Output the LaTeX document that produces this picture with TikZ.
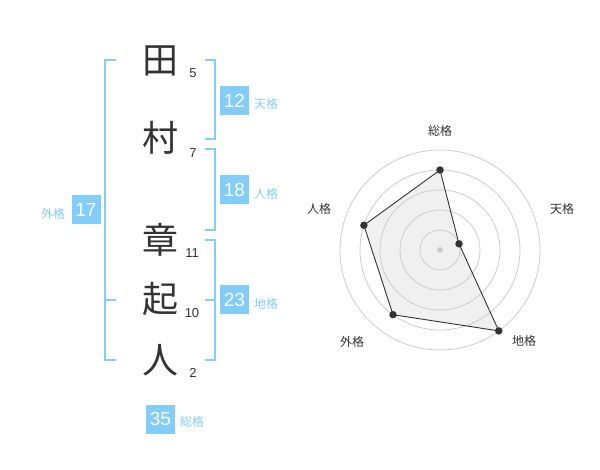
\documentclass[tikz,border=0pt]{standalone}
\usepackage{fontspec}
\setmainfont{Liberation Sans}
\newfontfamily\jp{Noto Sans CJK JP}
\definecolor{sky}{HTML}{82CDF9}
\definecolor{ink}{HTML}{333333}
\definecolor{ring}{HTML}{CCCCCC}
\definecolor{area}{HTML}{F0F0F0}
\begin{document}
\begin{tikzpicture}[x=1pt,y=-1pt,
  kanji/.style={inner sep=0pt,text=ink,font=\jp\fontsize{36}{36}\selectfont},
  strokes/.style={inner sep=0pt,text=ink,font=\fontsize{13}{13}\selectfont},
  valbox/.style={fill=sky,text=white,minimum width=29pt,minimum height=29pt,inner sep=0pt,font=\fontsize{19}{19}\selectfont},
  vallabel/.style={inner sep=0pt,text=sky,font=\jp\fontsize{12}{12}\selectfont},
  bracket/.style={draw=sky,line width=2pt},
  ringline/.style={draw=ring,line width=0.8pt},
  axislabel/.style={inner sep=0pt,text=ink,font=\jp\fontsize{12}{12}\selectfont},
  dot/.style={circle,fill=ink,inner sep=0pt,minimum size=7.5pt}]
\useasboundingbox (0,0) rectangle (600,470);
% name characters
\node[kanji] (k1) at (160,61) {田};
\node[kanji] (k2) at (160,138) {村};
\node[kanji] (k3) at (160,240) {章};
\node[kanji] (k4) at (160,299) {起};
\node[kanji] (k5) at (160,360) {人};
% stroke counts
\node[strokes] (n1) at (193,73) {5};
\node[strokes] (n2) at (193,153) {7};
\node[strokes] (n3) at (192,253) {11};
\node[strokes] (n4) at (192,313) {10};
\node[strokes] (n5) at (193,373) {2};
% brackets
\draw[bracket] (116,60) -- (105,60) -- (105,360) -- (116,360);
\draw[bracket] (105,300) -- (116,300);
\draw[bracket] (205,60) -- (215,60) -- (215,139) -- (205,139);
\draw[bracket] (205,149) -- (215,149) -- (215,230) -- (205,230);
\draw[bracket] (205,240) -- (215,240) -- (215,360) -- (205,360);
\draw[bracket] (205,300) -- (215,300);
% value boxes
\node[valbox] (b12) at (234.5,100.5) {12};
\node[vallabel] (l12) at (266,104) {天格};
\node[valbox] (b18) at (234.5,190) {18};
\node[vallabel] (l18) at (266,194) {人格};
\node[valbox] (b23) at (234.5,300) {23};
\node[vallabel] (l23) at (266,304) {地格};
\node[valbox] (b17) at (86,210) {17};
\node[vallabel] (l17) at (53,214) {外格};
\node[valbox] (b35) at (160.5,419) {35};
\node[vallabel] (l35) at (192,422) {総格};
% radar chart
\coordinate (c) at (440,250);
\coordinate (p1) at (440,170);
\coordinate (p2) at (459.0,243.8);
\coordinate (p3) at (498.8,330.9);
\coordinate (p4) at (393.0,314.7);
\coordinate (p5) at (363.9,225.3);
\fill[area] (p1) -- (p2) -- (p3) -- (p4) -- (p5) -- cycle;
\foreach \r in {20,40,60,80,100} {\draw[ringline] (c) circle[radius=\r];}
\node[circle,fill=ring,inner sep=0pt,minimum size=6pt] (cdot) at (c) {};
\draw[ink,line width=0.9pt] (p1) -- (p2) -- (p3) -- (p4) -- (p5) -- cycle;
\node[dot] (d1) at (p1) {};
\node[dot] (d2) at (p2) {};
\node[dot] (d3) at (p3) {};
\node[dot] (d4) at (p4) {};
\node[dot] (d5) at (p5) {};
\node[axislabel] (a1) at (440,131) {総格};
\node[axislabel] (a2) at (562,209) {天格};
\node[axislabel] (a3) at (524,341) {地格};
\node[axislabel] (a4) at (352,342) {外格};
\node[axislabel] (a5) at (319,209) {人格};
\end{tikzpicture}
\end{document}
